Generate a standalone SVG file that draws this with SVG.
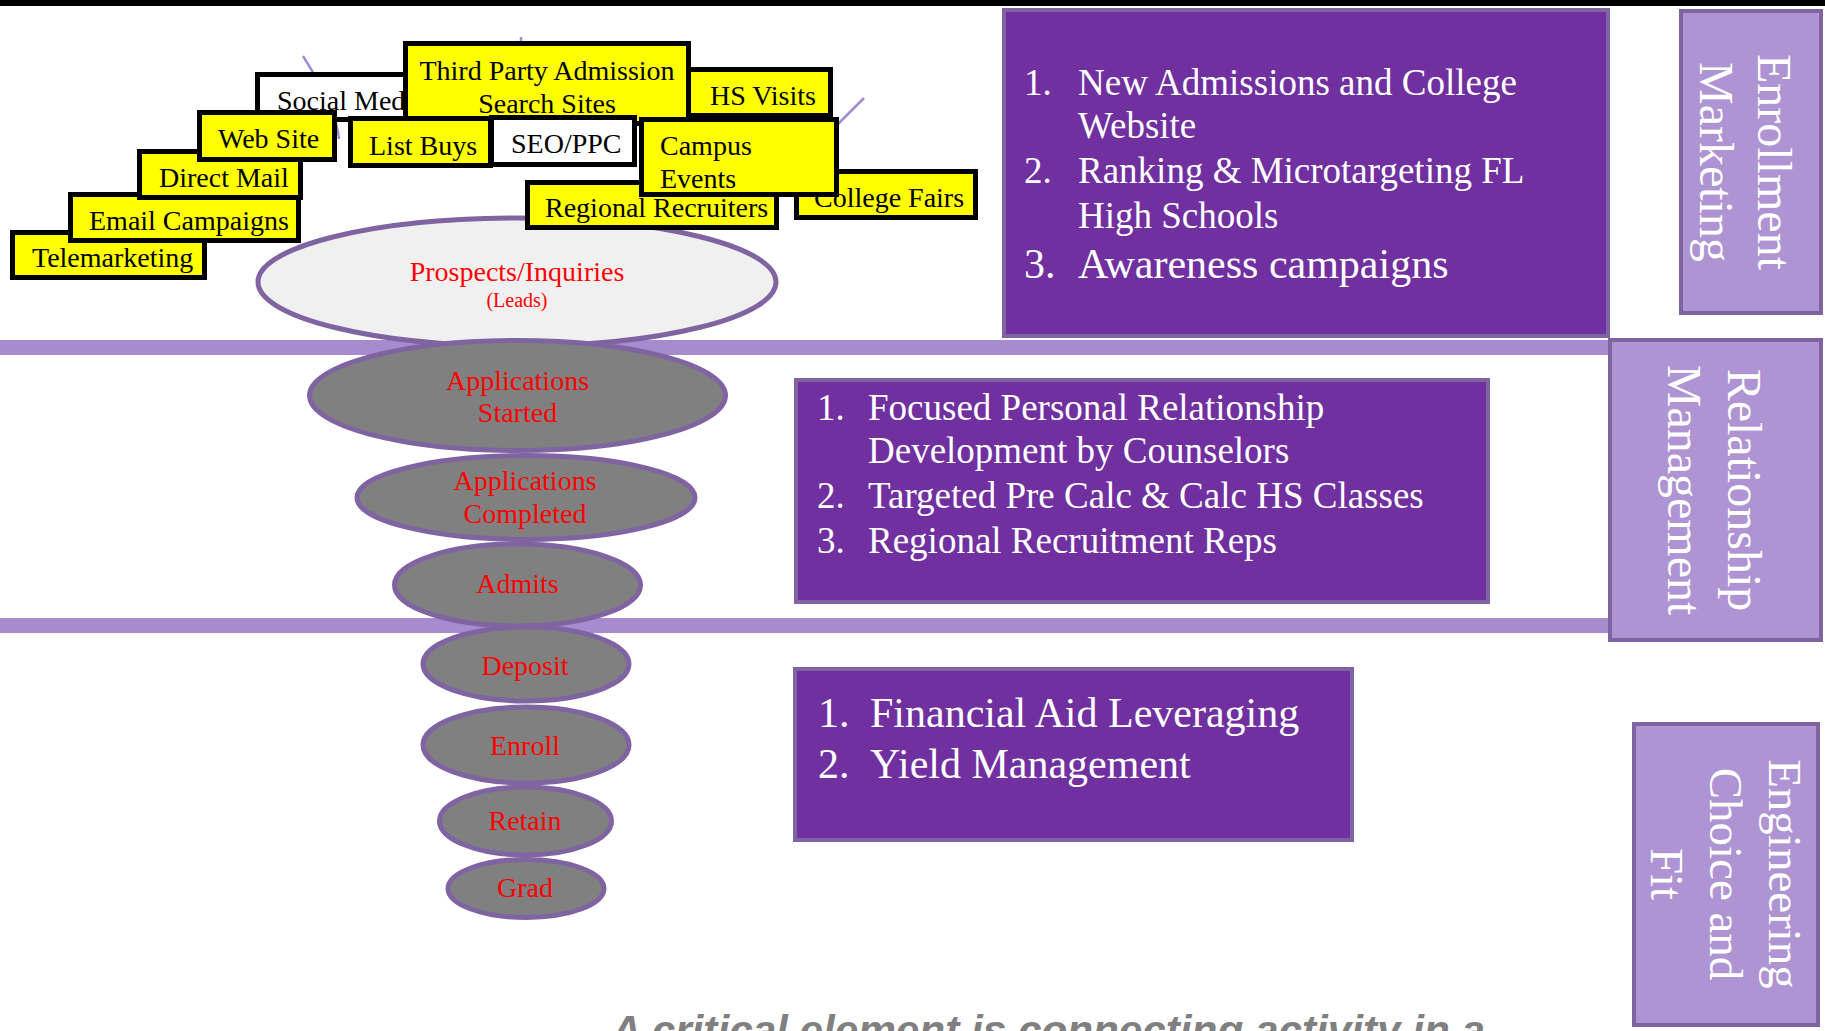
<svg xmlns="http://www.w3.org/2000/svg" width="1825" height="1031" viewBox="0 0 1825 1031">
<style>
.bar{fill:#000}
.band{fill:#A78BCF}
.dk{fill:#7030A0;stroke:#8064A2;stroke-width:4}
.lt{fill:#AE94D3;stroke:#8064A2;stroke-width:4}
.wt{fill:#fff;font-family:"Liberation Serif","Times New Roman",serif}
.f37{font-size:37px}
.f42{font-size:42px}
.side{font-size:48px;text-anchor:middle}
.fun{fill:#808080;stroke:#8064A2;stroke-width:5}
.pro{fill:#F0F0F0;stroke:#8064A2;stroke-width:5}
.red{fill:#FF0000;font-family:"Liberation Serif","Times New Roman",serif;font-size:28px;text-anchor:middle}
.yb{fill:#FFFF00;stroke:#000;stroke-width:5}
.wb{fill:#FFFFFF;stroke:#000;stroke-width:5}
.bt{fill:#000;font-family:"Liberation Serif","Times New Roman",serif;font-size:28px}
.conn{fill:none;stroke:#A58CD2;stroke-width:2.5}
.foot{fill:#808080;font-family:"Liberation Sans",Arial,sans-serif;font-size:42px;font-weight:bold;font-style:italic}
</style>
<rect class="bar" x="0" y="0" width="1825" height="6"/>
<g id="bands">
<rect class="band" x="0" y="340" width="1612" height="15"/>
<rect class="band" x="0" y="618" width="1612" height="15"/>
</g>
<g id="box-enrollment-actions">
<rect class="dk" x="1004" y="10" width="604" height="326"/>
<text class="wt f37"><tspan x="1024" y="95">1.</tspan><tspan x="1078" y="95">New Admissions and College</tspan><tspan x="1078" y="138">Website</tspan><tspan x="1024" y="183">2.</tspan><tspan x="1078" y="183">Ranking &amp; Microtargeting FL</tspan><tspan x="1078" y="228">High Schools</tspan></text>
<text class="wt f42"><tspan x="1024" y="278">3.</tspan><tspan x="1078" y="278">Awareness campaigns</tspan></text>
</g>
<g id="box-relationship-actions">
<rect class="dk" x="796" y="380" width="692" height="222"/>
<text class="wt f37"><tspan x="817" y="420">1.</tspan><tspan x="868" y="420">Focused Personal Relationship</tspan><tspan x="868" y="463">Development by Counselors</tspan><tspan x="817" y="508">2.</tspan><tspan x="868" y="508">Targeted Pre Calc &amp; Calc HS Classes</tspan><tspan x="817" y="553">3.</tspan><tspan x="868" y="553">Regional Recruitment Reps</tspan></text>
</g>
<g id="box-choice-actions">
<rect class="dk" x="795" y="669" width="557" height="171"/>
<text class="wt f42"><tspan x="818" y="727">1.</tspan><tspan x="870" y="727">Financial Aid Leveraging</tspan><tspan x="818" y="778">2.</tspan><tspan x="870" y="778">Yield Management</tspan></text>
</g>
<g id="label-enrollment-marketing">
<rect class="lt" x="1681" y="11" width="140" height="302"/>
<text class="wt side" transform="translate(1758,162) rotate(90)"><tspan x="0" y="0">Enrollment</tspan><tspan x="0" y="58">Marketing</tspan></text>
</g>
<g id="label-relationship-management">
<rect class="lt" x="1610" y="340" width="211" height="300"/>
<text class="wt side" transform="translate(1728,490) rotate(90)"><tspan x="0" y="0">Relationship</tspan><tspan x="0" y="60">Management</tspan></text>
</g>
<g id="label-engineering-choice">
<rect class="lt" x="1634" y="724" width="184" height="301"/>
<text class="wt side" style="font-size:47px" transform="translate(1769,874) rotate(90)"><tspan x="0" y="0">Engineering</tspan><tspan x="0" y="59">Choice and</tspan><tspan x="0" y="118">Fit</tspan></text>
</g>
<g id="connectors">
<path class="conn" d="M303,56 Q336,108 339,139"/>
<path class="conn" d="M521,37 L521,50"/>
<path class="conn" d="M864,98 L836,126"/>
</g>
<g id="funnel">
<g id="prospects"><ellipse class="pro" cx="517" cy="282" rx="259" ry="64"/>
<text class="red" x="517" y="281">Prospects/Inquiries</text>
<text class="red" x="517" y="307" style="font-size:20px">(Leads)</text></g>
<g id="apps-started"><ellipse class="fun" cx="517.5" cy="395.5" rx="208" ry="55"/>
<text class="red"><tspan x="517.5" y="390">Applications</tspan><tspan x="517.5" y="422">Started</tspan></text></g>
<g id="apps-completed"><ellipse class="fun" cx="526" cy="497.5" rx="169" ry="42"/>
<text class="red"><tspan x="525" y="490">Applications</tspan><tspan x="525" y="523">Completed</tspan></text></g>
<g id="admits"><ellipse class="fun" cx="517.5" cy="585" rx="123" ry="41"/>
<text class="red" x="517.5" y="593">Admits</text></g>
<g id="deposit"><ellipse class="fun" cx="526" cy="664" rx="103" ry="37"/>
<text class="red" x="525" y="675">Deposit</text></g>
<g id="enroll"><ellipse class="fun" cx="526" cy="745" rx="103" ry="38"/>
<text class="red" x="525" y="755">Enroll</text></g>
<g id="retain"><ellipse class="fun" cx="525.5" cy="821" rx="86" ry="34"/>
<text class="red" x="525" y="830">Retain</text></g>
<g id="grad"><ellipse class="fun" cx="526" cy="888.5" rx="78" ry="29"/>
<text class="red" x="525" y="897">Grad</text></g>
</g>
<g id="channels">
<g id="telemarketing"><rect class="yb" x="12.5" y="232.5" width="192" height="45"/><text class="bt" x="32" y="267">Telemarketing</text></g>
<g id="email"><rect class="yb" x="70.5" y="194.5" width="228" height="46"/><text class="bt" x="89" y="230">Email Campaigns</text></g>
<g id="direct-mail"><rect class="yb" x="139.5" y="151.5" width="161" height="46"/><text class="bt" x="159" y="187">Direct Mail</text></g>
<g id="social-media"><rect class="wb" x="257.5" y="74.5" width="160" height="45"/><text class="bt" x="277" y="110">Social Med</text></g>
<g id="web-site"><rect class="yb" x="199.5" y="112.5" width="135" height="47"/><text class="bt" x="218" y="148">Web Site</text></g>
<g id="hs-visits"><rect class="yb" x="680" y="69.5" width="150.5" height="46"/><text class="bt" x="710" y="105">HS Visits</text></g>
<g id="third-party"><rect class="yb" x="405.5" y="43.5" width="283" height="80"/><text class="bt" text-anchor="middle"><tspan x="547" y="80">Third Party Admission</tspan><tspan x="547" y="113">Search Sites</tspan></text></g>
<g id="list-buys"><rect class="yb" x="350.5" y="118.5" width="140" height="47"/><text class="bt" x="369" y="155">List Buys</text></g>
<g id="seo-ppc"><rect class="wb" x="491.5" y="117.5" width="143" height="47"/><text class="bt" x="511" y="153">SEO/PPC</text></g>
<g id="college-fairs"><rect class="yb" x="796.5" y="171.5" width="179" height="46"/><text class="bt" x="814" y="207">College Fairs</text></g>
<g id="regional-recruiters"><rect class="yb" x="527.5" y="182.5" width="249" height="45"/><text class="bt" x="545" y="217">Regional Recruiters</text></g>
<g id="campus-events"><rect class="yb" x="641.5" y="119.5" width="195" height="75"/><text class="bt"><tspan x="660" y="155">Campus</tspan><tspan x="660" y="188">Events</tspan></text></g>
</g>
<text class="foot" x="611" y="1045" textLength="874" lengthAdjust="spacingAndGlyphs">A critical element is connecting activity in a</text>
</svg>
